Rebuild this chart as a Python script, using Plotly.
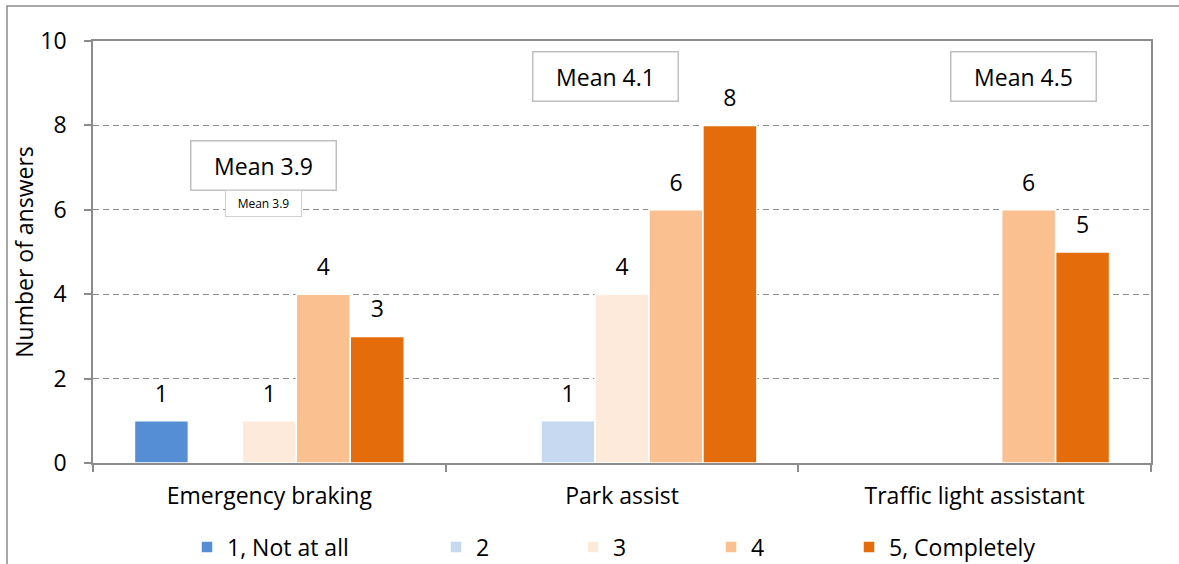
import plotly.graph_objects as go

categories = ["Emergency braking", "Park assist", "Traffic light assistant"]
series_names = ["1, Not at all", "2", "3", "4", "5, Completely"]
values_1 = [1, 0, 0]
values_2 = [0, 1, 0]
values_3 = [1, 4, 0]
values_4 = [4, 6, 6]
values_5 = [3, 8, 5]
colors = ["#558ED5", "#C6D9F1", "#FDEADA", "#FAC090", "#E46C0A"]
mean_labels = ["Mean 3.9", "Mean 4.1", "Mean 4.5"]
mean_y = [7.05, 9.15, 9.15]
mean_shift = [-6, -17, 49]
legend_symbol_px = [201, 450, 587, 725, 863]

all_values = [values_1, values_2, values_3, values_4, values_5]
FONT = "Open Sans"
FS = 23
GRAY = "#8C8C8C"
L, R, T, B = 93, 28, 41, 101
PW = 1179 - L - R
PH = 564 - T - B

fig = go.Figure()
legend_names = ["legend"] + [f"legend{k}" for k in range(2, 6)]
for i, (name, vals, col) in enumerate(zip(series_names, all_values, colors)):
    ys = [v if v else None for v in vals]
    fig.add_trace(go.Bar(
        x=categories, y=ys, name=name, offsetgroup=f"g{i}",
        marker=dict(color=col, line=dict(color="white", width=1.5)),
        legend=legend_names[i], hoverinfo="skip",
    ))
for i, vals in enumerate(all_values):
    ys = [v if v else None for v in vals]
    fig.add_trace(go.Scatter(
        x=categories, y=ys, mode="markers+text", offsetgroup=f"g{i}",
        marker=dict(size=20, opacity=0, color="white"),
        text=[str(v) if v else "" for v in vals],
        textposition="top center",
        textfont=dict(family=FONT, size=FS, color="#000000"),
        showlegend=False, cliponaxis=False, hoverinfo="skip",
    ))

for lab, yv, sh, cat in zip(mean_labels, mean_y, mean_shift, categories):
    fig.add_annotation(
        x=cat, y=yv, xref="x", yref="y", xshift=sh, text=lab, showarrow=False,
        font=dict(family=FONT, size=FS, color="#000000"),
        width=144, height=48, bordercolor="#BFBFBF", borderwidth=1.5,
        bgcolor="white", borderpad=0,
    )
fig.add_annotation(
    x=categories[0], y=6.15, xref="x", yref="y", xshift=-6, text=mean_labels[0],
    showarrow=False, font=dict(family=FONT, size=12, color="#000000"),
    width=75, height=25, bordercolor="#D0D0D0", borderwidth=1,
    bgcolor="white", borderpad=0,
)

fig.add_shape(type="rect", xref="paper", yref="paper",
              x0=(7 - L) / PW, x1=1.2, y0=-0.5, y1=(564 - B - 6) / PH + 0.0,
              line=dict(color=GRAY, width=1.5), layer="below")

legends = {}
for k, (ln, sx) in enumerate(zip(legend_names, legend_symbol_px)):
    legends[ln] = dict(orientation="h", x=(sx - 14 - L) / PW, xanchor="left",
                       y=(564 - B - 547) / PH, yanchor="middle",
                       font=dict(family=FONT, size=FS, color="#000000"),
                       bgcolor="rgba(0,0,0,0)", borderwidth=0)

fig.update_layout(
    width=1179, height=564,
    margin=dict(l=L, r=R, t=T, b=B, autoexpand=False),
    paper_bgcolor="white", plot_bgcolor="white",
    barmode="group", bargap=0.235, bargroupgap=0,
    scattermode="group",
    font=dict(family=FONT, size=FS, color="#000000"),
    showlegend=True,
    **legends,
)
fig.update_xaxes(
    showline=True, linecolor=GRAY, linewidth=1.5, mirror=True,
    ticks="outside", tickson="boundaries", ticklen=7, tickcolor=GRAY, tickwidth=1.5,
    tickfont=dict(family=FONT, size=FS, color="#000000"),
    ticklabelstandoff=12, showgrid=False,
)
fig.update_yaxes(
    range=[0, 10], dtick=2, showline=True, linecolor=GRAY, linewidth=1.5, mirror=True,
    ticks="outside", ticklen=7, tickcolor=GRAY, tickwidth=1.5,
    tickfont=dict(family=FONT, size=FS, color="#000000"),
    ticklabelstandoff=13,
    showgrid=True, gridcolor=GRAY, gridwidth=1, griddash="6px,4px",
    zeroline=False,
    title=dict(text="Number of answers", font=dict(family=FONT, size=FS), standoff=0),
)

fig.write_html("out.html")
